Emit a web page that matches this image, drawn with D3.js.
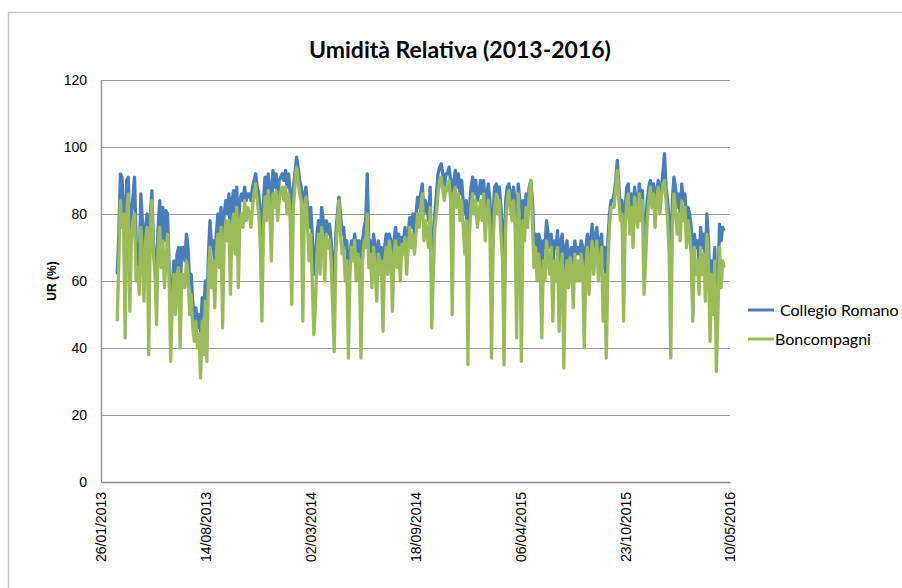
<!DOCTYPE html>
<html lang="it">
<head>
  <meta charset="UTF-8">
  <title>Umidità Relativa</title>
  <style>
    body { margin: 0; background: #fff; }
  </style>
</head>
<body>
  <script src="https://d3js.org/d3.v7.min.js"></script>
  <script>
    // Series names and colours
    let seriesNames = ["Collegio Romano", "Boncompagni"];
    let seriesColors = ["#4a7ebb", "#9bbb59"];

    // First reading and spacing between readings (days)
    let firstDay = "2013-02-26";
    let stepDays = 3;

    // Collegio Romano (UR %)
    let collegioRomano = [
      62, 74, 92, 91, 82, 62, 90, 91, 72, 80, 85, 91, 72, 66, 64, 86, 78, 64, 76, 80, 60,
      78, 87, 72, 66, 62, 76, 84, 70, 82, 72, 81, 80, 64, 48, 58, 66, 56, 68, 70, 56, 70,
      70, 66, 74, 70, 60, 62, 54, 48, 52, 46, 50, 45, 55, 50, 60, 52, 68, 78, 70, 72, 64,
      74, 80, 72, 82, 62, 80, 84, 80, 86, 72, 84, 87, 78, 88, 72, 84, 86, 84, 88, 84, 86,
      86, 84, 88, 90, 92, 88, 86, 80, 70, 84, 91, 86, 92, 88, 80, 93, 88, 92, 84, 90, 91,
      92, 90, 93, 88, 92, 86, 72, 88, 92, 97, 94, 90, 88, 70, 86, 88, 82, 76, 82, 74, 62,
      66, 74, 78, 72, 82, 78, 70, 78, 74, 77, 72, 66, 56, 74, 80, 85, 80, 74, 76, 70, 72,
      56, 68, 72, 70, 74, 68, 72, 72, 56, 72, 76, 78, 92, 70, 72, 66, 74, 70, 64, 72, 68,
      70, 60, 70, 74, 68, 74, 72, 64, 72, 76, 70, 74, 68, 73, 72, 76, 70, 74, 79, 76, 80,
      74, 80, 85, 82, 86, 89, 80, 84, 82, 78, 88, 62, 70, 80, 86, 92, 94, 95, 92, 88, 92,
      92, 94, 90, 68, 90, 93, 88, 92, 86, 90, 84, 80, 84, 54, 82, 88, 91, 86, 90, 84, 86,
      90, 86, 90, 82, 86, 89, 84, 56, 80, 88, 89, 86, 88, 82, 76, 52, 84, 88, 89, 86, 84,
      88, 84, 62, 89, 84, 54, 84, 78, 86, 82, 88, 90, 84, 72, 74, 68, 74, 72, 60, 72, 70,
      78, 74, 70, 74, 64, 72, 70, 75, 62, 72, 74, 52, 70, 72, 66, 69, 70, 64, 72, 68, 70,
      68, 72, 70, 58, 70, 74, 66, 72, 77, 70, 73, 76, 68, 72, 74, 64, 70, 56, 72, 80, 84,
      84, 86, 90, 96, 88, 82, 84, 64, 82, 88, 89, 80, 86, 78, 88, 84, 80, 89, 84, 87, 70,
      76, 84, 88, 90, 86, 89, 84, 87, 90, 84, 88, 92, 98, 88, 84, 78, 56, 84, 91, 88, 82,
      86, 80, 89, 84, 86, 78, 82, 80, 76, 50, 74, 70, 72, 66, 76, 70, 74, 66, 80, 72, 56,
      66, 62, 70, 48, 58, 77, 72, 76, 75
    ];

    // Boncompagni (UR %)
    let boncompagni = [
      48, 66, 84, 76, 80, 43, 80, 86, 51, 72, 78, 80, 60, 64, 56, 76, 68, 54, 72, 76, 38,
      74, 84, 68, 62, 47, 70, 76, 64, 72, 58, 66, 74, 60, 36, 54, 62, 50, 62, 64, 40, 62,
      62, 58, 66, 62, 50, 56, 46, 42, 48, 40, 44, 31, 48, 38, 54, 36, 62, 70, 58, 66, 52,
      68, 74, 64, 76, 46, 72, 78, 72, 78, 56, 76, 80, 68, 82, 58, 78, 80, 76, 84, 78, 82,
      80, 76, 82, 86, 89, 84, 80, 70, 48, 76, 85, 78, 87, 82, 66, 86, 82, 87, 78, 84, 87,
      88, 84, 88, 80, 86, 78, 53, 82, 88, 94, 90, 86, 84, 48, 82, 85, 76, 66, 74, 60, 44,
      52, 68, 74, 62, 76, 72, 60, 74, 70, 72, 66, 52, 39, 68, 76, 84, 74, 68, 70, 60, 66,
      37, 62, 70, 66, 72, 60, 68, 66, 37, 66, 72, 70, 80, 64, 68, 58, 70, 64, 54, 68, 62,
      66, 45, 66, 70, 62, 72, 68, 51, 68, 72, 64, 70, 60, 71, 68, 73, 62, 70, 76, 70, 74,
      68, 74, 80, 76, 82, 86, 72, 78, 74, 70, 82, 46, 62, 76, 80, 86, 90, 91, 87, 84, 88,
      87, 90, 84, 50, 86, 88, 82, 86, 78, 84, 76, 68, 78, 35, 74, 82, 86, 80, 84, 76, 80,
      84, 78, 86, 72, 80, 84, 76, 37, 70, 82, 86, 80, 84, 74, 66, 35, 76, 84, 87, 82, 78,
      84, 76, 43, 86, 74, 36, 78, 72, 82, 76, 86, 90, 78, 64, 70, 60, 68, 62, 43, 66, 60,
      72, 66, 62, 70, 48, 66, 60, 70, 45, 64, 68, 34, 62, 66, 58, 67, 64, 52, 68, 60, 66,
      60, 68, 64, 40, 64, 70, 56, 66, 72, 62, 68, 72, 60, 66, 70, 48, 62, 37, 64, 76, 82,
      82, 82, 88, 93, 84, 78, 80, 48, 76, 84, 86, 74, 82, 70, 85, 80, 76, 86, 78, 84, 56,
      66, 78, 84, 88, 82, 86, 76, 84, 88, 80, 85, 89, 90, 84, 78, 68, 37, 76, 86, 82, 74,
      80, 72, 84, 78, 82, 70, 78, 74, 68, 48, 70, 62, 66, 56, 70, 62, 68, 54, 74, 64, 42,
      62, 50, 66, 33, 50, 70, 58, 66, 64
    ];

    // Axis settings
    let xStart = "2013-01-26";
    let xEnd = "2016-05-10";
    let xTickStepDays = 200;
    let yTicks = [0, 20, 40, 60, 80, 100, 120];

    let svgWidth = 902;
    let svgHeight = 588;

    let plot = { left: 101, right: 730, top: 80, bottom: 482 };

    let svg = d3.select("body")
      .append("svg")
      .attr("width", svgWidth)
      .attr("height", svgHeight);

    // Chart frame
    svg.append("rect")
      .attr("x", 8.5)
      .attr("y", 12.5)
      .attr("width", 1000)
      .attr("height", 1000)
      .attr("fill", "none")
      .attr("stroke", "#c6c6c6")
      .attr("stroke-width", 1.5);

    let parseDay = d3.utcParse("%Y-%m-%d");
    let start = parseDay(xStart);
    let end = parseDay(xEnd);

    let x = d3.scaleUtc()
      .domain([start, end])
      .range([plot.left, plot.right]);

    let y = d3.scaleLinear()
      .domain([0, 120])
      .range([plot.bottom, plot.top]);

    // Gridlines
    svg.append("g")
      .selectAll("line")
      .data(yTicks.filter(d => d > 0))
      .enter()
      .append("line")
      .attr("x1", plot.left)
      .attr("x2", plot.right)
      .attr("y1", d => Math.round(y(d)) + 0.5)
      .attr("y2", d => Math.round(y(d)) + 0.5)
      .attr("stroke", "#9a9a9a")
      .attr("stroke-width", 1.2);

    // Y axis
    let yAxis = svg.append("g")
      .attr("transform", `translate(${plot.left},0)`)
      .call(d3.axisLeft(y).tickValues(yTicks).tickSize(0).tickPadding(14));
    yAxis.select(".domain").attr("stroke", "#8c8c8c").attr("stroke-width", 1.3);
    yAxis.selectAll("text")
      .attr("font-family", "Liberation Sans, Arial, sans-serif")
      .attr("font-size", 14)
      .attr("fill", "#000");

    // X axis
    let xTickValues = d3.range(0, 7).map(k => d3.utcDay.offset(start, k * xTickStepDays));
    let xAxis = svg.append("g")
      .attr("transform", `translate(0,${plot.bottom})`)
      .call(d3.axisBottom(x).tickValues(xTickValues).tickSize(0).tickFormat(d3.utcFormat("%d/%m/%Y")));
    xAxis.select(".domain").attr("stroke", "#8c8c8c").attr("stroke-width", 1.3);
    xAxis.selectAll("text")
      .attr("font-family", "Liberation Sans, Arial, sans-serif")
      .attr("font-size", 14)
      .attr("fill", "#000")
      .attr("text-anchor", "end")
      .attr("transform", "rotate(-90)")
      .attr("x", -10)
      .attr("y", 0)
      .attr("dy", "0.35em");

    // Lines
    let seriesData = [collegioRomano, boncompagni];
    let firstDate = parseDay(firstDay);

    let line = d3.line()
      .x((d, i) => x(d3.utcDay.offset(firstDate, i * stepDays)))
      .y(d => y(d));

    svg.append("g")
      .selectAll("path")
      .data(seriesData)
      .enter()
      .append("path")
      .attr("d", line)
      .attr("fill", "none")
      .attr("stroke", (d, i) => seriesColors[i])
      .attr("stroke-width", 3.3)
      .attr("stroke-linejoin", "round");

    // Title
    svg.append("text")
      .attr("x", 460)
      .attr("y", 58)
      .attr("text-anchor", "middle")
      .attr("font-family", "Lato, Carlito, sans-serif")
      .attr("font-weight", "bold")
      .attr("font-size", 23)
      .text("Umidità Relativa (2013-2016)");

    // Y axis title
    svg.append("text")
      .attr("transform", "translate(52,281) rotate(-90)")
      .attr("text-anchor", "middle")
      .attr("dy", "0.35em")
      .attr("font-family", "Liberation Sans, Arial, sans-serif")
      .attr("font-weight", "bold")
      .attr("font-size", 12)
      .text("UR (%)");

    // Legend
    let legendY = [310, 339];
    let legendTextX = [780, 775];
    let legend = svg.append("g")
      .selectAll("g")
      .data(seriesNames)
      .enter()
      .append("g")
      .attr("transform", (d, i) => `translate(0,${legendY[i]})`);

    legend.append("line")
      .attr("x1", 748)
      .attr("x2", 774)
      .attr("stroke", (d, i) => seriesColors[i])
      .attr("stroke-width", 3);

    legend.append("text")
      .attr("x", (d, i) => legendTextX[i])
      .attr("dy", "0.35em")
      .attr("font-family", "Lato, Carlito, sans-serif")
      .attr("font-size", 16)
      .text(d => d);
  </script>
</body>
</html>
